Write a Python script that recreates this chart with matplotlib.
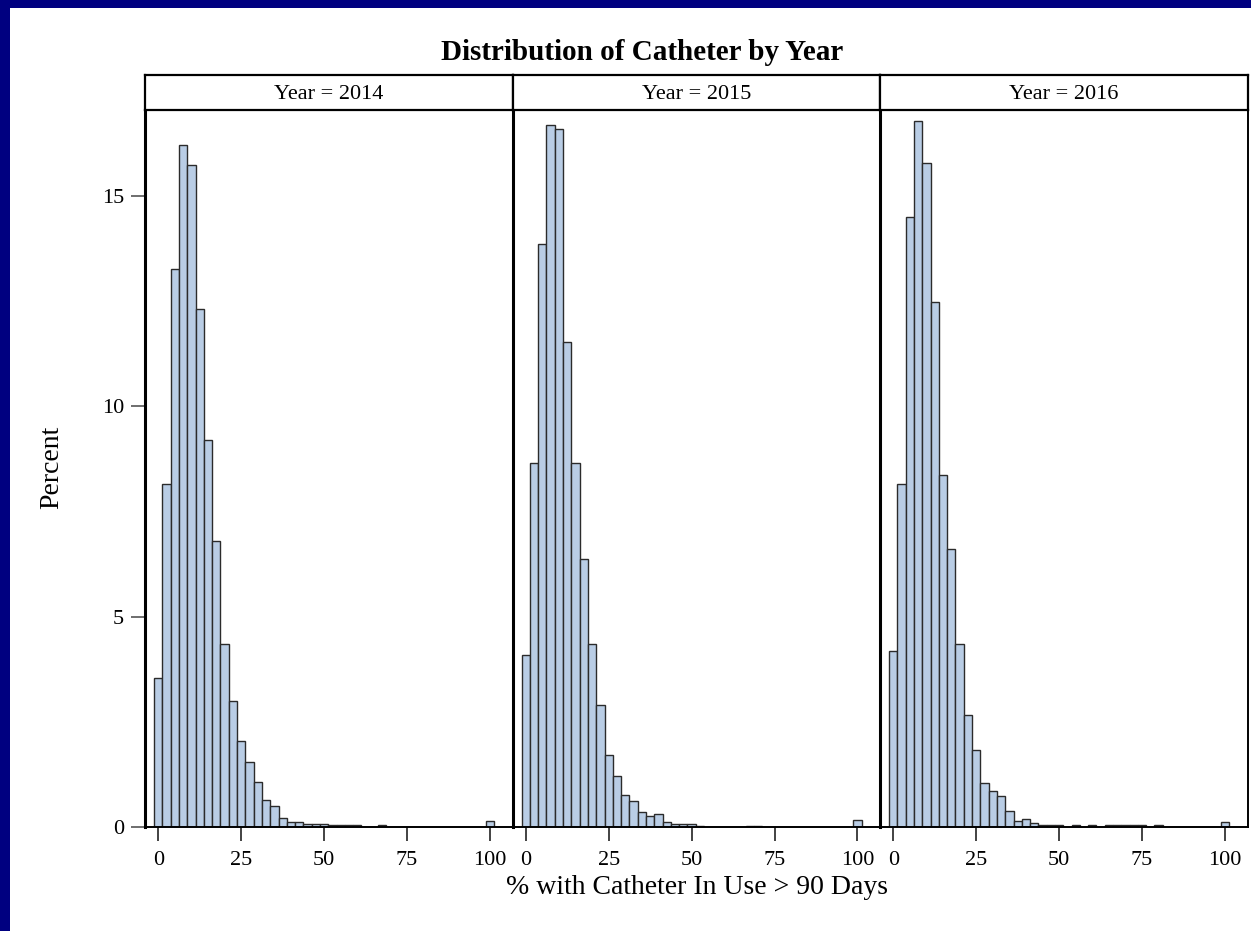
import matplotlib
matplotlib.use("Agg")
import matplotlib.pyplot as plt
from matplotlib.patches import Rectangle

# bin midpoints (bin width 2.5)
bin_mid = [0, 2.5, 5, 7.5, 10, 12.5, 15, 17.5, 20, 22.5, 25, 27.5, 30, 32.5, 35, 37.5,
           40, 42.5, 45, 47.5, 50, 52.5, 55, 57.5, 60, 62.5, 65, 67.5, 70, 72.5, 75,
           77.5, 80, 82.5, 85, 87.5, 90, 92.5, 95, 97.5, 100]

years = ["2014", "2015", "2016"]

pct_2014 = [3.54, 8.16, 13.27, 16.20, 15.74, 12.31, 9.20, 6.79, 4.36, 3.00, 2.04, 1.54,
            1.08, 0.63, 0.49, 0.22, 0.12, 0.11, 0.08, 0.08, 0.08, 0.04, 0.04, 0.04, 0.04,
            0, 0, 0.04, 0, 0, 0, 0, 0, 0, 0, 0, 0, 0, 0, 0, 0.14]
pct_2015 = [4.08, 8.65, 13.85, 16.69, 16.60, 11.52, 8.65, 6.38, 4.36, 2.90, 1.71, 1.21,
            0.76, 0.62, 0.36, 0.27, 0.31, 0.13, 0.08, 0.08, 0.08, 0.03, 0, 0, 0,
            0, 0, 0.03, 0.03, 0, 0, 0, 0, 0, 0, 0, 0, 0, 0, 0, 0.16]
pct_2016 = [4.19, 8.15, 14.49, 16.78, 15.79, 12.48, 8.37, 6.61, 4.36, 2.67, 1.82, 1.04,
            0.85, 0.73, 0.38, 0.14, 0.18, 0.10, 0.04, 0.04, 0.04, 0, 0.04, 0, 0.04,
            0, 0.04, 0.04, 0.04, 0.04, 0.04, 0, 0.04, 0, 0, 0, 0, 0, 0, 0, 0.13]
all_pct = [pct_2014, pct_2015, pct_2016]

x_ticks = [0, 25, 50, 75, 100]
y_ticks = [0, 5, 10, 15]

FONT = "Liberation Serif"
BAR_COLOR = "#B9CDE5"
EDGE = "#2b2b2b"
NAVY = "#000080"

W, H = 1251, 931
fig = plt.figure(figsize=(W / 100, H / 100), dpi=100)
fig.patch.set_facecolor(NAVY)
fig.patches.append(Rectangle((10 / W, 0), 1 - 10 / W, 1 - 8 / H, transform=fig.transFigure,
                             facecolor="white", edgecolor="none", zorder=-5))

left0 = 145 / W
pw = 367.5 / W
bottom = 1 - 827 / H
top = 1 - 110 / H
head_top = 1 - 75 / H

for i, (yr, pct) in enumerate(zip(years, all_pct)):
    ax = fig.add_axes([left0 + i * pw, bottom, pw, top - bottom])
    ax.bar(bin_mid, pct, width=2.5, color=BAR_COLOR, edgecolor=EDGE, linewidth=1.0, zorder=2)
    ax.set_xlim(-4, 106.8)
    ax.set_ylim(0, 17.04)
    ax.set_xticks(x_ticks)
    ax.set_xticklabels([str(t) for t in x_ticks], fontfamily=FONT, fontsize=16)
    ax.tick_params(axis="x", length=10, width=1.2, color="#222222", pad=7)
    if i == 0:
        ax.set_yticks(y_ticks)
        ax.set_yticklabels([str(t) for t in y_ticks], fontfamily=FONT, fontsize=16)
        ax.tick_params(axis="y", length=10, width=1.2, color="#555555", pad=5)
    else:
        ax.set_yticks([])
    for s in ["top", "right", "bottom"]:
        ax.spines[s].set_linewidth(1.4)
    ax.spines["left"].set_linewidth(2.2)

    # header strip
    hx = fig.add_axes([left0 + i * pw, top, pw, head_top - top])
    hx.set_xticks([])
    hx.set_yticks([])
    for s in hx.spines.values():
        s.set_linewidth(1.6)
    hx.text(0.5, 0.45, f"Year = {yr}", ha="center", va="center", transform=hx.transAxes,
            fontfamily=FONT, fontsize=16)

fig.text(642 / W, 1 - 52 / H, "Distribution of Catheter by Year", ha="center", va="center",
         fontfamily=FONT, fontsize=21, fontweight="bold")
fig.text(52 / W, 1 - 467 / H, "Percent", ha="center", va="center", rotation=90,
         fontfamily=FONT, fontsize=20)
fig.text(697 / W, 1 - 887 / H, "% with Catheter In Use > 90 Days", ha="center", va="center",
         fontfamily=FONT, fontsize=20)

fig.savefig("out.png", dpi=100, facecolor=fig.get_facecolor())
